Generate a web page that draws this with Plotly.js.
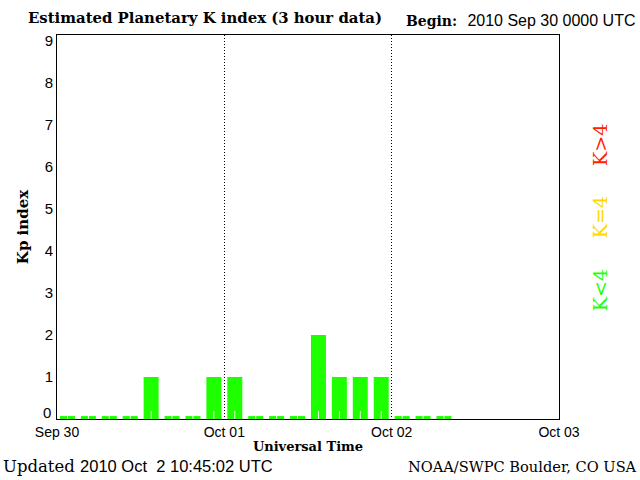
<!DOCTYPE html>
<html>
<head>
<meta charset="utf-8">
<script src="https://cdn.plot.ly/plotly-3.0.1.min.js"></script>
<style>html,body{margin:0;padding:0;background:#fff;}#chart{width:640px;height:480px;}</style>
</head>
<body>
<div id="chart"></div>
<script>
// 3-hour slot centres (UTC), Sep 30 - Oct 02 2010
var slotTimes = [
  "2010-09-30 01:30","2010-09-30 04:30","2010-09-30 07:30","2010-09-30 10:30",
  "2010-09-30 13:30","2010-09-30 16:30","2010-09-30 19:30","2010-09-30 22:30",
  "2010-10-01 01:30","2010-10-01 04:30","2010-10-01 07:30","2010-10-01 10:30",
  "2010-10-01 13:30","2010-10-01 16:30","2010-10-01 19:30","2010-10-01 22:30",
  "2010-10-02 01:30","2010-10-02 04:30","2010-10-02 07:30"
];
var kpValues = [0,0,0,0,1,0,0,1,1,0,0,0,2,1,1,1,0,0,0];
var tickDates = ["2010-09-30","2010-10-01","2010-10-02","2010-10-03"];
var tickLabels = ["Sep 30","Oct 01","Oct 02","Oct 03"];
var yTicks = [1,2,3,4,5,6,7,8,9];
var yZeroLabel = "0";

var ZERO_H = 0.07;
var drawn = kpValues.map(function(v){ return v === 0 ? ZERO_H : v; });
var notch = kpValues.map(function(){ return 0.19; });
var H = 3600*1000;

var traces = [
  {type:'bar', x:slotTimes, y:drawn, width:2.15*H, marker:{color:'#1eff00', line:{width:0}}, hoverinfo:'skip'},
  {type:'bar', x:slotTimes, y:notch, width:0.14*H, marker:{color:'#ffffff', line:{width:0}}, hoverinfo:'skip'}
];

var serif = 'DejaVu Serif, Liberation Serif, serif';
var sans = 'Liberation Sans, DejaVu Sans, sans-serif';

var layout = {
  width:640, height:480,
  margin:{l:57, r:81, t:35, b:61},
  paper_bgcolor:'#fff', plot_bgcolor:'#fff',
  barmode:'overlay', showlegend:false,
  xaxis:{
    type:'date', range:['2010-09-30','2010-10-03'],
    tickvals:tickDates, ticktext:tickLabels,
    showgrid:true, gridcolor:'#000', gridwidth:1, griddash:'1px,2px',
    showline:true, linecolor:'#000', linewidth:1, mirror:true,
    ticks:'', tickfont:{family:sans, size:14, color:'#000'},
    title:{text:'<b>Universal Time</b>', font:{family:serif, size:13, color:'#000'}, standoff:3},
    zeroline:false, fixedrange:true
  },
  yaxis:{
    range:[0,9.14], tickvals:yTicks, ticktext:yTicks.map(String),
    showgrid:false, zeroline:false,
    showline:true, linecolor:'#000', linewidth:1, mirror:true,
    ticks:'', tickfont:{family:sans, size:15, color:'#000'},
    title:{text:'<b>Kp index</b>', font:{family:serif, size:15, color:'#000'}, standoff:12},
    fixedrange:true
  },
  annotations:[
    {xref:'paper', yref:'y', x:0, y:0, xanchor:'right', yanchor:'middle', xshift:-4, yshift:7, text:yZeroLabel, showarrow:false, font:{family:sans, size:15, color:'#000'}},
    {xref:'paper', yref:'paper', x:-0.062, y:1, xanchor:'left', yanchor:'bottom', yshift:6, text:'<b>Estimated Planetary K index (3 hour data)</b>', showarrow:false, font:{family:serif, size:14.9, color:'#000'}},
    {xref:'paper', yref:'paper', x:1.158, y:1, xanchor:'right', yanchor:'bottom', yshift:3, text:'<b><span style="font-size:14px">Begin:</span></b>&nbsp;&nbsp;<span style="font-family:Liberation Sans">2010 Sep 30 0000 UTC</span>', showarrow:false, font:{family:serif, size:16, color:'#000'}},
    {xref:'paper', yref:'paper', x:-0.112, y:0, xanchor:'left', yanchor:'top', yshift:-36, text:'Updated <span style="font-family:Liberation Sans">2010 Oct&nbsp;&nbsp;2 10:45:02 UTC</span>', showarrow:false, font:{family:serif, size:16.5, color:'#000'}},
    {xref:'paper', yref:'paper', x:1.16, y:0, xanchor:'right', yanchor:'top', yshift:-37, text:'NOAA/SWPC Boulder, CO USA', showarrow:false, font:{family:serif, size:14.6, color:'#000'}},
    {xref:'paper', yref:'paper', x:1.082, y:0.336, xanchor:'center', yanchor:'middle', textangle:-90, text:'K&lt;4', showarrow:false, font:{family:serif, size:19, color:'#1eff00'}},
    {xref:'paper', yref:'paper', x:1.082, y:0.526, xanchor:'center', yanchor:'middle', textangle:-90, text:'K=4', showarrow:false, font:{family:serif, size:19, color:'#ffd700'}},
    {xref:'paper', yref:'paper', x:1.082, y:0.714, xanchor:'center', yanchor:'middle', textangle:-90, text:'K&gt;4', showarrow:false, font:{family:serif, size:19, color:'#ff2200'}}
  ]
};

Plotly.newPlot('chart', traces, layout, {staticPlot:true, displayModeBar:false});
</script>
</body>
</html>
